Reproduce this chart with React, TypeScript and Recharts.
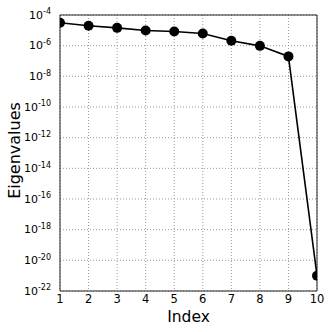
import React from "react";
import { LineChart, Line, XAxis, YAxis, CartesianGrid, ReferenceArea, Label } from "recharts";

const indices = [1, 2, 3, 4, 5, 6, 7, 8, 9, 10];
const eigenvalues = [3.1e-5, 2.0e-5, 1.45e-5, 9.7e-6, 8.3e-6, 6.2e-6, 2.1e-6, 9.7e-7, 2.0e-7, 1.0e-21];
const xTicks = [1, 2, 3, 4, 5, 6, 7, 8, 9, 10];
const yTickExponents = [-22, -20, -18, -16, -14, -12, -10, -8, -6, -4];
const yTicks = yTickExponents.map((e) => Math.pow(10, e));

const data = indices.map((i, k) => ({ index: i, value: eigenvalues[k] }));

const FONT = "DejaVu Sans";

const YTick = (props: any) => {
  const { x, y, payload } = props;
  const exp = Math.round(Math.log10(payload.value));
  return (
    <text x={x} y={y} textAnchor="end" fontFamily={FONT} fontSize={11} fill="#000">
      <tspan dy={3.8}>10</tspan>
      <tspan fontSize={8} dy={-4.6}>{"-" + Math.abs(exp)}</tspan>
    </text>
  );
};

const XTick = (props: any) => {
  const { x, y, payload } = props;
  return (
    <text x={x} y={y} dy={8.6} textAnchor="middle" fontFamily={FONT} fontSize={11.5} fill="#000">
      {payload.value}
    </text>
  );
};

export default function App() {
  return (
    <div style={{ position: "absolute", left: 0, top: 0, width: 332, height: 332, background: "#fff" }}>
      <LineChart width={332} height={332} data={data} margin={{ top: 15, right: 15, bottom: 0, left: 0 }}>
        <CartesianGrid stroke="#999" strokeDasharray="1 2" />
        <XAxis
          dataKey="index"
          type="number"
          domain={[1, 10]}
          ticks={xTicks}
          allowDataOverflow
          height={41}
          tickSize={0}
          tickMargin={3}
          tick={<XTick />}
          axisLine={false}
          interval={0}
        >
          <Label
            content={() => (
              <text x={188.5} y={322} textAnchor="middle" fontFamily={FONT} fontSize={15.5} fill="#000">
                Index
              </text>
            )}
          />
        </XAxis>
        <YAxis
          type="number"
          scale="log"
          domain={[1e-22, 1e-4]}
          ticks={yTicks}
          allowDataOverflow
          width={60}
          tickSize={0}
          tickMargin={9}
          tick={<YTick />}
          axisLine={false}
          interval={0}
        >
          <Label
            content={() => (
              <text
                x={19.5}
                y={150.5}
                transform="rotate(-90 19.5 150.5)"
                textAnchor="middle"
                fontFamily={FONT}
                fontSize={16}
                fill="#000"
              >
                Eigenvalues
              </text>
            )}
          />
        </YAxis>
        <ReferenceArea x1={1} x2={10} y1={1e-22} y2={1e-4} fill="none" stroke="#222" strokeWidth={1} ifOverflow="visible" />
        <Line
          dataKey="value"
          stroke="#000"
          strokeWidth={1.6}
          dot={{ r: 5, fill: "#000", stroke: "#000", strokeWidth: 0 }}
          isAnimationActive={false}
        />
      </LineChart>
    </div>
  );
}
